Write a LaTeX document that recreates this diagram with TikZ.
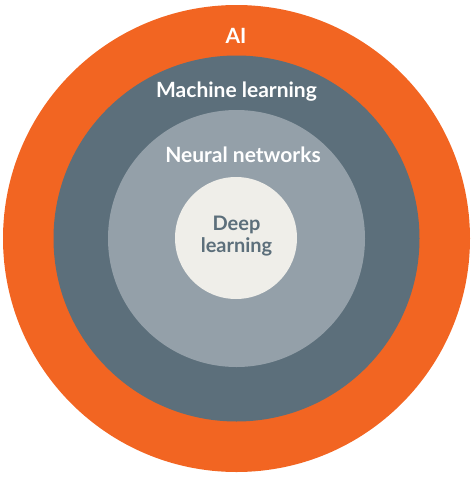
\documentclass[tikz,border=0pt]{standalone}
\usepackage{fontspec}
\setmainfont{Lato}
\definecolor{aiorange}{HTML}{F26522}
\definecolor{mlslate}{HTML}{5C6F7B}
\definecolor{nngrey}{HTML}{94A0A9}
\definecolor{dlcream}{HTML}{EFEEE9}
\begin{document}
\begin{tikzpicture}[x=1pt,y=-1pt,
    ring_node/.style={circle,inner sep=0pt,outer sep=0pt},
    label_node/.style={anchor=base,inner sep=0pt,text=white,font=\bfseries\fontsize{21}{24}\selectfont},
    inner_label/.style={label_node,text=mlslate,font=\bfseries\fontsize{20}{22}\selectfont}]
    \useasboundingbox (0,0) rectangle (472,477);
    \node[ring_node,fill=aiorange,minimum size=467pt] (ai) at (236.5,238.5) {};
    \node[ring_node,fill=mlslate,minimum size=366pt] (ml) at (236.5,238.5) {};
    \node[ring_node,fill=nngrey,minimum size=257pt] (nn) at (236.5,238.5) {};
    \node[ring_node,fill=dlcream,minimum size=122pt] (dl) at (236,238) {};
    \node[label_node] (ai_text) at (236,43.3) {AI};
    \node[label_node] (ml_text) at (236.5,97.3) {Machine learning};
    \node[label_node] (nn_text) at (243,162) {Neural networks};
    \node[inner_label] (dl_text1) at (236.5,230) {Deep};
    \node[inner_label] (dl_text2) at (236.5,252) {learning};
\end{tikzpicture}
\end{document}
